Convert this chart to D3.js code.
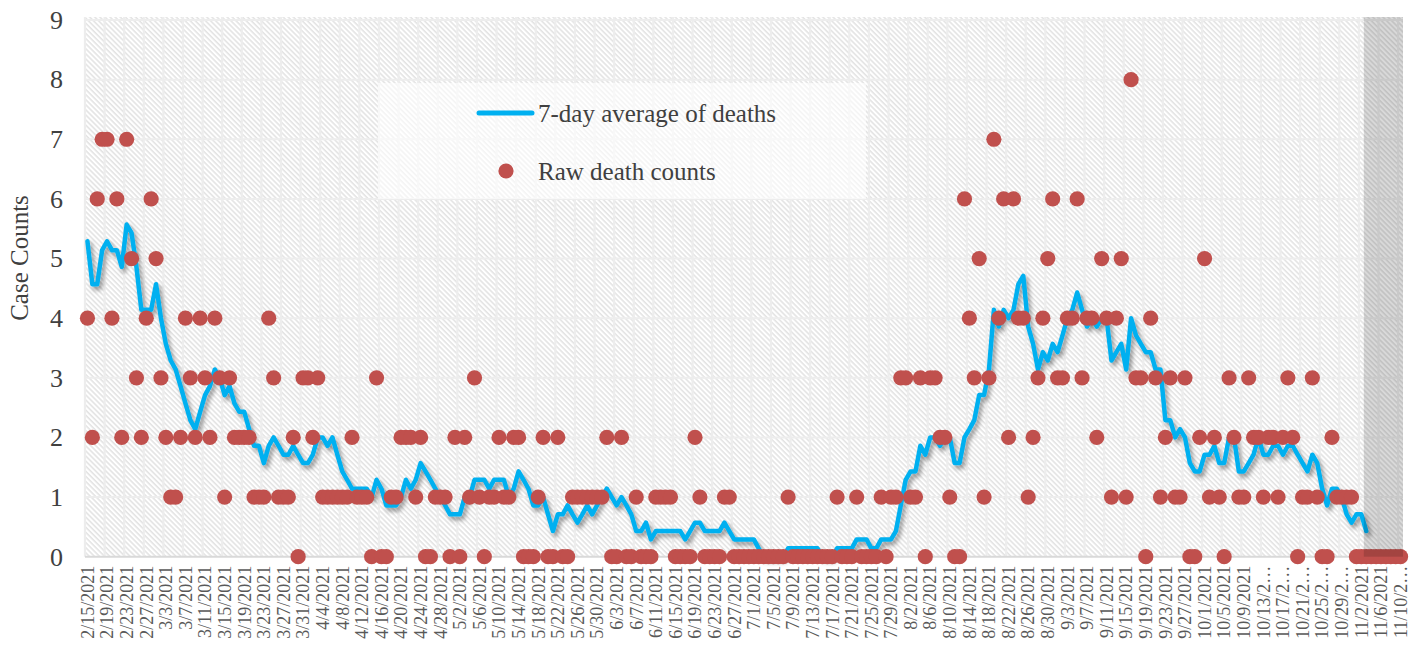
<!DOCTYPE html>
<html>
<head>
<meta charset="utf-8">
<script src="https://cdn.jsdelivr.net/npm/d3@7"></script>
<style>
body{margin:0;background:#fff;}
text{font-family:"Liberation Serif","Times New Roman",serif;}
</style>
</head>
<body>
<script>
// daily categories, 2/15/2021 .. 11/10/2021
var startDay = new Date(2021, 1, 15);
var dayCount = 269;
var fmt = d3.timeFormat("%-m/%-d/%Y");
var dates = d3.range(dayCount).map(function(i){ return fmt(d3.timeDay.offset(startDay, i)); });

var rawDeaths = [4,2,6,7,7,4,6,2,7,5,
 3,2,4,6,5,3,2,1,1,2,
 4,3,2,4,3,2,4,3,1,3,
 2,2,2,2,1,1,1,4,3,1,
 1,1,2,0,3,3,2,3,1,1,
 1,1,1,1,2,1,1,1,0,3,
 0,0,1,1,2,2,2,1,2,0,
 0,1,1,1,0,2,0,2,1,3,
 1,0,1,1,2,1,1,2,2,0,
 0,0,1,2,0,0,2,0,0,1,
 1,1,1,1,1,1,2,0,0,2,
 0,0,1,0,0,0,1,1,1,1,
 0,0,0,0,2,1,0,0,0,0,
 1,1,0,0,0,0,0,0,0,0,
 0,0,0,1,0,0,0,0,0,0,
 0,0,0,1,0,0,0,1,0,0,
 0,0,1,0,1,1,3,3,1,1,
 3,0,3,3,2,2,1,0,0,6,
 4,3,5,1,3,7,4,6,2,6,
 4,4,1,2,3,4,5,6,3,3,
 4,4,6,3,4,4,2,5,4,1,
 4,5,1,8,3,3,0,4,3,1,
 2,3,1,1,3,0,0,2,5,1,
 2,1,0,3,2,1,1,3,2,2,
 1,2,2,1,2,3,2,0,1,1,
 3,1,0,0,2,1,1,1,1,0,
 0,0,0,0,0,0,0,0,0];

var avgDeaths = [5.29,4.57,4.57,5.14,5.29,5.14,5.14,4.86,5.57,5.43,
 4.86,4.14,4.14,4.14,4.57,4.00,3.57,3.29,3.14,2.86,
 2.57,2.29,2.14,2.43,2.71,2.86,3.14,3.00,2.71,2.86,
 2.57,2.43,2.43,2.14,1.86,1.86,1.57,1.86,2.00,1.86,
 1.71,1.71,1.86,1.71,1.57,1.57,1.71,2.00,2.00,1.86,
 2.00,1.71,1.43,1.29,1.14,1.14,1.14,1.14,1.00,1.29,
 1.14,0.86,0.86,0.86,1.00,1.29,1.14,1.29,1.57,1.43,
 1.29,1.14,1.00,0.86,0.71,0.71,0.71,1.00,1.00,1.29,
 1.29,1.29,1.14,1.29,1.29,1.29,1.00,1.14,1.43,1.29,
 1.14,0.86,0.86,1.00,0.71,0.43,0.71,0.71,0.86,0.71,
 0.57,0.71,0.86,0.71,0.86,1.00,1.14,1.00,0.86,1.00,
 0.86,0.71,0.43,0.43,0.57,0.29,0.43,0.43,0.43,0.43,
 0.43,0.43,0.29,0.43,0.57,0.57,0.43,0.43,0.43,0.43,
 0.57,0.43,0.29,0.29,0.29,0.29,0.29,0.14,0,0,
 0,0,0,0.14,0.14,0.14,0.14,0.14,0.14,0.14,
 0,0,0,0.14,0.14,0.14,0.14,0.29,0.29,0.29,
 0.14,0.14,0.29,0.29,0.29,0.43,0.86,1.29,1.43,1.43,
 1.86,1.71,2.00,2.00,1.86,2.00,2.00,1.57,1.57,2.00,
 2.14,2.29,2.71,2.71,3.14,4.14,3.86,4.14,4.00,4.14,
 4.57,4.71,3.86,3.57,3.14,3.43,3.29,3.57,3.43,3.71,
 4.00,4.14,4.43,4.14,3.86,4.00,3.86,4.00,4.00,3.29,
 3.43,3.57,3.14,4.00,3.71,3.57,3.43,3.43,3.14,3.14,
 2.29,2.29,2.00,2.14,2.00,1.57,1.43,1.43,1.71,1.71,
 1.86,1.57,1.57,2.00,2.00,1.43,1.43,1.57,1.71,2.00,
 1.71,1.71,1.86,1.86,1.71,1.86,1.86,1.71,1.57,1.43,
 1.71,1.57,1.14,0.86,1.14,1.14,1.00,0.71,0.57,0.71,
 0.71,0.43];

var yTicks = [0,1,2,3,4,5,6,7,8,9];
var xTickLabels = dates.filter(function(d,i){ return i % 4 == 0; });
var shadeFrom = "11/3/2021";
var seriesNames = ["7-day average of deaths", "Raw death counts"];

var W = 1414, H = 646;
var plotLeft = 85, plotRight = 1403, plotTop = 20, plotBottom = 556.7;

var svg = d3.select("body").append("svg").attr("width", W).attr("height", H);

var x = d3.scaleBand().domain(dates).range([plotLeft, plotRight]);
var y = d3.scaleLinear().domain([0, 9]).range([plotBottom, plotTop]);
var bw = x.bandwidth();
function cx(d){ return x(d) + bw / 2; }

var defs = svg.append("defs");
var pat = defs.append("pattern")
  .attr("id", "hatch")
  .attr("patternUnits", "userSpaceOnUse")
  .attr("width", 3.6).attr("height", 10)
  .attr("patternTransform", "rotate(-45)");
pat.append("rect").attr("width", 3.6).attr("height", 10).attr("fill", "#ffffff");
pat.append("line").attr("x1", 1).attr("y1", 0).attr("x2", 1).attr("y2", 10)
  .attr("stroke", "#dedede").attr("stroke-width", 1.3);

var shadow = defs.append("filter").attr("id", "shadow")
  .attr("x", "-5%").attr("y", "-20%").attr("width", "110%").attr("height", "140%");
shadow.append("feDropShadow").attr("dx", 2.5).attr("dy", 3.5).attr("stdDeviation", 2)
  .attr("flood-color", "#000").attr("flood-opacity", 0.4);

// plot background
svg.append("rect").attr("x", plotLeft).attr("y", plotTop - 3)
  .attr("width", plotRight - plotLeft).attr("height", plotBottom - plotTop + 3)
  .attr("fill", "url(#hatch)");

// gridlines
svg.append("g").selectAll("line").data(yTicks.slice(1)).enter().append("line")
  .attr("x1", plotLeft).attr("x2", plotRight)
  .attr("y1", function(d){ return y(d); }).attr("y2", function(d){ return y(d); })
  .attr("stroke", "#ededed").attr("stroke-width", 2);
svg.append("g").selectAll("line").data(xTickLabels).enter().append("line")
  .attr("x1", function(d){ return x(d); }).attr("x2", function(d){ return x(d); })
  .attr("y1", plotTop - 3).attr("y2", plotBottom)
  .attr("stroke", "#ededed").attr("stroke-width", 2.2);
svg.append("line").attr("x1", plotLeft).attr("x2", plotRight)
  .attr("y1", plotBottom).attr("y2", plotBottom)
  .attr("stroke", "#d9d9d9").attr("stroke-width", 2);

// legend box sits behind the marks
svg.append("rect").attr("x", 378).attr("y", 83).attr("width", 488).attr("height", 116)
  .attr("fill", "#ffffff").attr("opacity", 0.6);

// 7-day average line
var line = d3.line()
  .x(function(d, i){ return cx(dates[i]); })
  .y(function(d){ return y(d); });
svg.append("path").datum(avgDeaths)
  .attr("d", line)
  .attr("fill", "none")
  .attr("stroke", "#00b0f0")
  .attr("stroke-width", 4.5)
  .attr("stroke-linejoin", "round")
  .attr("stroke-linecap", "round")
  .attr("filter", "url(#shadow)");

// raw counts
svg.append("g").selectAll("circle").data(rawDeaths).enter().append("circle")
  .attr("cx", function(d, i){ return cx(dates[i]); })
  .attr("cy", function(d){ return y(d); })
  .attr("r", 7.6)
  .attr("fill", "#c0504d");

// shaded tail
svg.append("rect").attr("x", x(shadeFrom)).attr("y", plotTop - 3)
  .attr("width", plotRight - x(shadeFrom)).attr("height", plotBottom - plotTop + 3)
  .attr("fill", "#000").attr("opacity", 0.15);

// y axis
var yAxis = svg.append("g").attr("transform", "translate(" + plotLeft + ",0)")
  .call(d3.axisLeft(y).tickValues(yTicks).tickSize(0).tickPadding(22).tickFormat(d3.format("d")));
yAxis.select(".domain").remove();
yAxis.selectAll("text")
  .style("font-family", "Liberation Serif")
  .style("font-size", "26px")
  .attr("fill", "#404040");

svg.append("text")
  .attr("transform", "translate(28,258) rotate(-90)")
  .style("text-anchor", "middle")
  .style("font-size", "25px")
  .attr("fill", "#404040")
  .text("Case Counts");

// x axis
var xAxis = svg.append("g").attr("transform", "translate(0," + plotBottom + ")")
  .call(d3.axisBottom(x).tickValues(xTickLabels).tickSize(0)
    .tickFormat(function(d){ return d.length > 9 ? d.slice(0, 7) + "\u2026" : d; }));
xAxis.select(".domain").remove();
xAxis.selectAll("text")
  .attr("transform", "rotate(-90)")
  .attr("x", -9).attr("y", 0).attr("dy", "0.35em")
  .style("text-anchor", "end")
  .style("font-family", "Liberation Serif")
  .style("font-size", "18px")
  .attr("fill", "#595959");

// legend
svg.append("line").attr("x1", 479).attr("x2", 532).attr("y1", 113).attr("y2", 113)
  .attr("stroke", "#00b0f0").attr("stroke-width", 5).attr("stroke-linecap", "round");
svg.append("text").attr("x", 538).attr("y", 113).attr("dy", "0.35em")
  .style("font-size", "25px").attr("fill", "#404040").text(seriesNames[0]);
svg.append("circle").attr("cx", 506).attr("cy", 171).attr("r", 7.6).attr("fill", "#c0504d");
svg.append("text").attr("x", 538).attr("y", 171).attr("dy", "0.35em")
  .style("font-size", "25px").attr("fill", "#404040").text(seriesNames[1]);
</script>
</body>
</html>
